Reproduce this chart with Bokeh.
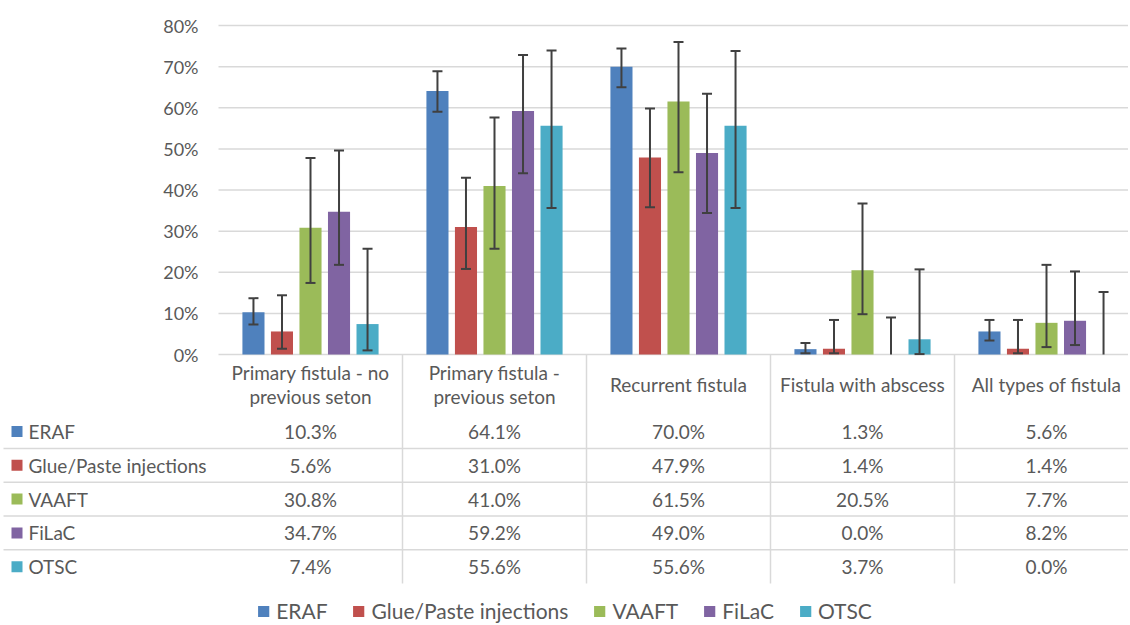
import numpy as np
from bokeh.plotting import figure
from bokeh.models import (ColumnDataSource, Range1d, FixedTicker, NumeralTickFormatter,
                          Whisker, TeeHead, Legend, LegendItem)
from bokeh.core.properties import value
from bokeh.embed import file_html
from bokeh.resources import INLINE

# ---------------- data ----------------
categories = ["Primary fistula - no\nprevious seton", "Primary fistula -\nprevious seton",
              "Recurrent fistula", "Fistula with abscess", "All types of fistula"]
series = ["ERAF", "Glue/Paste injections", "VAAFT", "FiLaC", "OTSC"]

eraf = [10.3, 64.1, 70.0, 1.3, 5.6]
glue = [5.6, 31.0, 47.9, 1.4, 1.4]
vaaft = [30.8, 41.0, 61.5, 20.5, 7.7]
filac = [34.7, 59.2, 49.0, 0.0, 8.2]
otsc = [7.4, 55.6, 55.6, 3.7, 0.0]

eraf_hi = [13.7, 68.9, 74.4, 2.8, 8.4]
eraf_lo = [7.3, 59.0, 65.0, 0.3, 3.4]
glue_hi = [14.4, 43.0, 59.8, 8.4, 8.4]
glue_lo = [1.4, 20.8, 35.8, 0.3, 0.3]
vaaft_hi = [47.8, 57.6, 76.0, 36.7, 21.8]
vaaft_lo = [17.4, 25.7, 44.3, 9.8, 1.8]
filac_hi = [49.6, 72.8, 63.4, 9.0, 20.2]
filac_lo = [21.8, 44.1, 34.4, 0.0, 2.3]
otsc_hi = [25.7, 73.9, 73.8, 20.7, 15.2]
otsc_lo = [1.0, 35.6, 35.6, 0.1, 0.0]

y_ticks = [0, 10, 20, 30, 40, 50, 60, 70, 80]

values = [eraf, glue, vaaft, filac, otsc]
highs = [eraf_hi, glue_hi, vaaft_hi, filac_hi, otsc_hi]
lows = [eraf_lo, glue_lo, vaaft_lo, filac_lo, otsc_lo]
colors = ["#4F81BD", "#C0504D", "#9BBB59", "#8064A2", "#4BACC6"]

# ---------------- style / layout ----------------
FONT = "Lato"
TXT = "#595959"
GRID = "#D9D9D9"
ERR = "#404040"

W, H = 1128, 623
PLOT_LEFT = 218        # px where the category axis starts
GROUP_PX = 184         # px per category
ZERO_PX = 354          # px of the 0 % line
PX_PER_UNIT = 411.25   # px per 100 %
ROW0_PX = 431          # first table row centre
ROW_PX = 33.8          # table row height
HEADER_PX = 384        # centre of the header row
TABLE_BOTTOM_PX = 583
PITCH = 0.155
BAR_W = 0.12

n = len(categories)
centers = np.arange(n) + 0.5
bounds = np.arange(1, n)

x_start = -PLOT_LEFT / GROUP_PX
x_end = (W - PLOT_LEFT) / GROUP_PX
y_end = ZERO_PX / PX_PER_UNIT
y_start = -(H - ZERO_PX) / PX_PER_UNIT


def px_to_y(py):
    return -(py - ZERO_PX) / PX_PER_UNIT


def px_to_x(px):
    return (px - PLOT_LEFT) / GROUP_PX


p = figure(width=W, height=H, x_range=Range1d(x_start, x_end), y_range=Range1d(y_start, y_end),
           output_backend="svg", toolbar_location=None, x_axis_location=None,
           min_border=0)
p.outline_line_color = None
p.grid.visible = False

ax = p.yaxis[0]
ax.fixed_location = 0
ax.ticker = FixedTicker(ticks=[t / 100 for t in y_ticks])
ax.formatter = NumeralTickFormatter(format="0%")
ax.axis_line_color = None
ax.major_tick_line_color = None
ax.minor_tick_line_color = None
ax.major_tick_out = 0
ax.major_tick_in = 0
ax.minor_tick_out = 0
ax.major_label_standoff = 20
ax.major_label_text_font = FONT
ax.major_label_text_font_size = "18px"
ax.major_label_text_color = TXT

# value gridlines (only across the plot area)
yt = [t / 100 for t in y_ticks]
p.segment(x0=[0] * len(yt), x1=[x_end] * len(yt), y0=yt, y1=yt, line_color=GRID, line_width=1.5)

# bars and error bars
wk_x, wk_hi, wk_lo = [], [], []
wz_x, wz_hi, wz_lo = [], [], []
for j, s in enumerate(series):
    xs = centers + (j - 2) * PITCH
    p.vbar(x=xs, top=np.array(values[j]) / 100, width=BAR_W, fill_color=colors[j],
           line_color=None)
    for i in range(n):
        if lows[j][i] > 0:
            wk_x.append(xs[i]); wk_hi.append(highs[j][i] / 100); wk_lo.append(lows[j][i] / 100)
        else:
            wz_x.append(xs[i]); wz_hi.append(highs[j][i] / 100); wz_lo.append(lows[j][i] / 100)

src_k = ColumnDataSource(dict(x=wk_x, hi=wk_hi, lo=wk_lo))
src_z = ColumnDataSource(dict(x=wz_x, hi=wz_hi, lo=wz_lo))
p.add_layout(Whisker(source=src_k, base="x", upper="hi", lower="lo", line_color=ERR,
                     line_width=2, level="annotation",
                     upper_head=TeeHead(size=10, line_color=ERR, line_width=2),
                     lower_head=TeeHead(size=10, line_color=ERR, line_width=2)))
p.add_layout(Whisker(source=src_z, base="x", upper="hi", lower="lo", line_color=ERR,
                     line_width=2, level="annotation",
                     upper_head=TeeHead(size=10, line_color=ERR, line_width=2),
                     lower_head=None))

# ---------------- data table ----------------
rows = np.arange(len(series))
row_y = np.array([px_to_y(ROW0_PX + r * ROW_PX) for r in rows])
sep_y = np.array([px_to_y(ROW0_PX + (r + 0.5) * ROW_PX) for r in rows[:-1]])

p.segment(x0=[px_to_x(3)] * len(sep_y), x1=[x_end] * len(sep_y), y0=sep_y, y1=sep_y,
          line_color=GRID, line_width=1.5)
p.segment(x0=bounds, x1=bounds, y0=[0] * len(bounds), y1=[px_to_y(TABLE_BOTTOM_PX)] * len(bounds),
          line_color=GRID, line_width=1.5)

# header (category labels)
p.text(x=centers, y=[px_to_y(HEADER_PX)] * n, text=categories, text_align="center",
       text_baseline="middle", text_font=value(FONT), text_font_size="19px", text_color=TXT,
       text_line_height=1.05)

# values
for j, s in enumerate(series):
    p.text(x=centers, y=[row_y[j]] * n, text=[f"{v:.1f}%" for v in values[j]],
           text_align="center", text_baseline="middle", text_font=value(FONT),
           text_font_size="19px", text_color=TXT)

# series names + colour keys
key_src = ColumnDataSource(dict(x=[px_to_x(16.5)] * len(series), y=row_y, c=colors))
keys = p.rect(x="x", y="y", width=11, height=11, width_units="screen", height_units="screen",
              fill_color="c", line_color=None, source=key_src)
p.text(x=[px_to_x(28)] * len(series), y=row_y, text=series, text_align="left",
       text_baseline="middle", text_font=value(FONT), text_font_size="19px", text_color=TXT)

legend = Legend(items=[LegendItem(label=s, renderers=[keys], index=j) for j, s in enumerate(series)],
                orientation="horizontal", location="bottom_center", glyph_width=14, glyph_height=14,
                label_standoff=6, spacing=24, padding=0, margin=0, border_line_color=None,
                background_fill_alpha=0, label_text_font=FONT, label_text_font_size="21px",
                label_text_color=TXT)
p.add_layout(legend)

open("out.html", "w").write(file_html(p, INLINE))
